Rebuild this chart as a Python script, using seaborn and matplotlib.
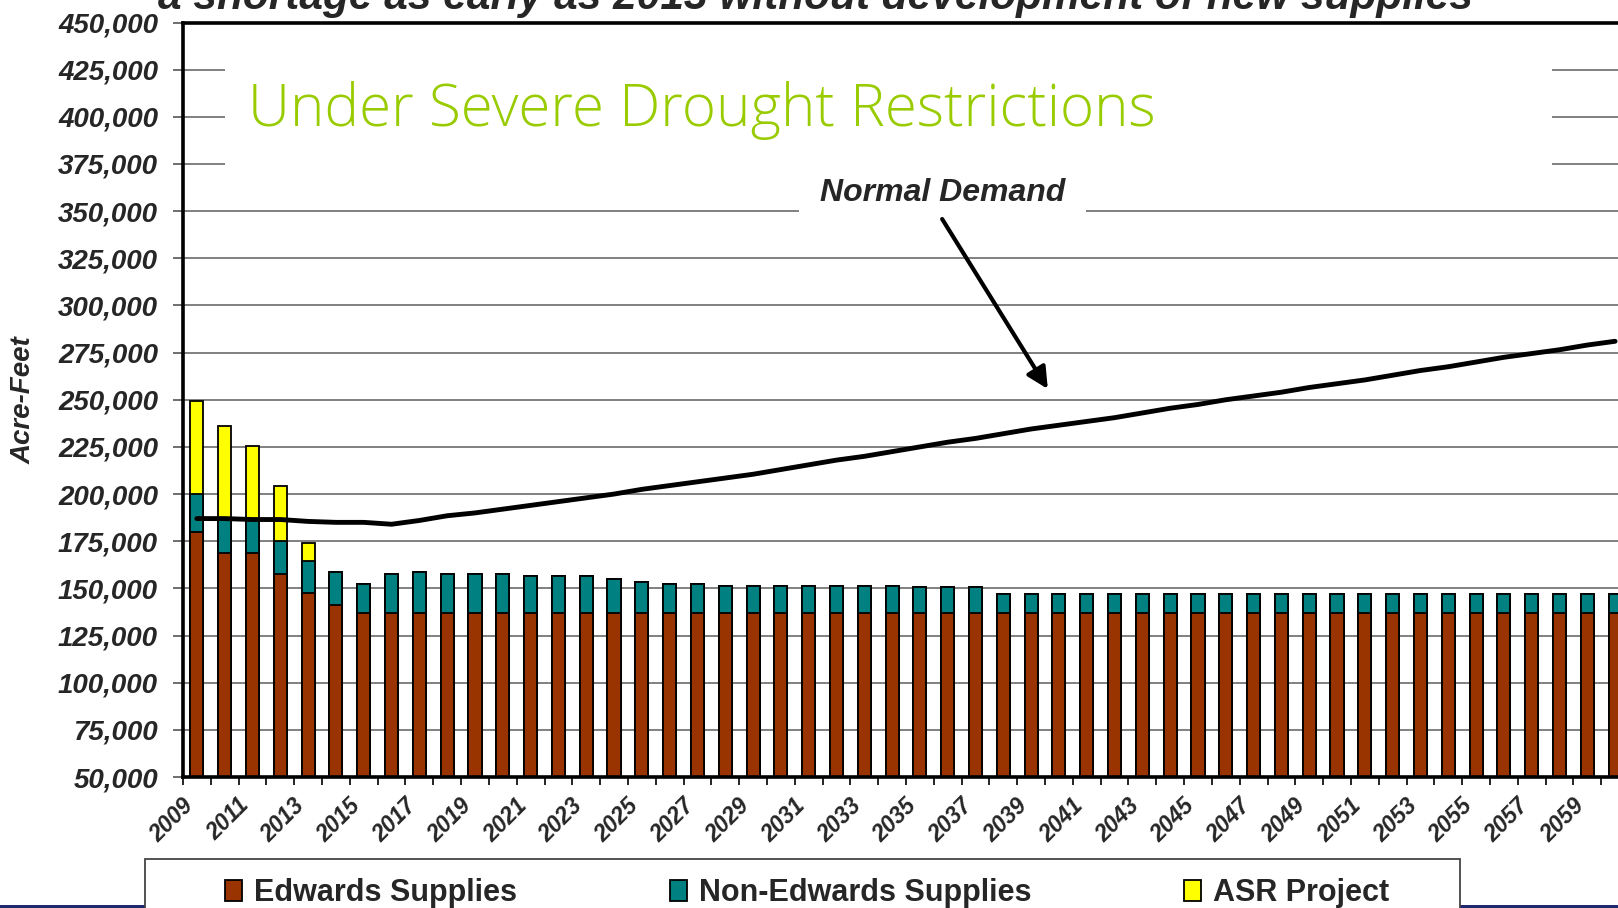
import numpy as np
import pandas as pd
import matplotlib
matplotlib.use("Agg")
import matplotlib.pyplot as plt
import matplotlib.transforms as mtransforms
from matplotlib.patches import Patch, Rectangle
import seaborn as sns

# data (acre-feet)
years = list(range(2009, 2061))
edwards = [180000, 168500, 168500, 157500, 147500, 141000, 137000, 137000, 137000, 137000,
           137000, 137000, 137000, 137000, 137000, 137000, 137000, 137000, 137000, 137000,
           137000, 137000, 137000, 137000, 137000, 137000, 137000, 137000, 137000, 137000,
           137000, 137000, 137000, 137000, 137000, 137000, 137000, 137000, 137000, 137000,
           137000, 137000, 137000, 137000, 137000, 137000, 137000, 137000, 137000, 137000,
           137000, 137000]
non_edwards = [20000, 18500, 18500, 17500, 17000, 17500, 15500, 20500, 21500, 20500,
               20500, 20500, 19500, 19500, 19500, 18000, 16500, 15500, 15500, 14500,
               14500, 14500, 14500, 14500, 14500, 14500, 13500, 13500, 13500, 10000,
               10000, 10000, 10000, 10000, 10000, 10000, 10000, 10000, 10000, 10000,
               10000, 10000, 10000, 10000, 10000, 10000, 10000, 10000, 10000, 10000,
               10000, 10000]
asr = [49500, 49000, 38500, 29500, 9500, 0, 0, 0, 0, 0,
       0, 0, 0, 0, 0, 0, 0, 0, 0, 0,
       0, 0, 0, 0, 0, 0, 0, 0, 0, 0,
       0, 0, 0, 0, 0, 0, 0, 0, 0, 0,
       0, 0, 0, 0, 0, 0, 0, 0, 0, 0,
       0, 0]
demand = [187000, 187000, 186500, 186500, 185500, 185000, 185000, 184000, 186000, 188500,
          190000, 192000, 194000, 196000, 198000, 200000, 202500, 204500, 206500, 208500,
          210500, 213000, 215500, 218000, 220000, 222500, 225000, 227500, 229500, 232000,
          234500, 236500, 238500, 240500, 243000, 245500, 247500, 250000, 252000, 254000,
          256500, 258500, 260500, 263000, 265500, 267500, 270000, 272500, 274500, 276500,
          279000, 281000]
series_names = ["Edwards Supplies", "Non-Edwards Supplies", "ASR Project"]
series_colors = ["#993300", "#008080", "#FFFF00"]
yticks = list(range(50000, 450001, 25000))

df = pd.DataFrame({"Year": [str(y) for y in years], "Edwards": edwards,
                   "NonEdwards": non_edwards, "ASR": asr, "Demand": demand})
df["lvl2"] = df["Edwards"] + df["NonEdwards"]
df["lvl3"] = df["lvl2"] + df["ASR"]

sns.set_theme(style="white")
plt.rcParams["font.family"] = ["Liberation Sans", "DejaVu Sans"]

fig = plt.figure(figsize=(16.18, 9.08), dpi=100)
ax = fig.add_axes([183 / 1618, 1 - 777 / 908, 1446 / 1618, 754.5 / 908])

# stacked bars: draw cumulative heights, tallest first
for col, colour in [("lvl3", series_colors[2]), ("lvl2", series_colors[1]), ("Edwards", series_colors[0])]:
    sns.barplot(data=df, x="Year", y=col, color=colour, saturation=1, width=0.47,
                edgecolor="black", linewidth=1.3, ax=ax, zorder=2)

idx = np.arange(len(years))
sns.lineplot(x=idx, y=df["Demand"].values, color="black", linewidth=3.5, ax=ax, zorder=5)

ax.set_xlim(-0.5, len(years) - 0.5)
ax.set_ylim(50000, 450000)
ax.set_yticks(yticks)
ax.set_yticklabels([f"{v:,}" for v in yticks], fontsize=20, fontweight="bold", fontstyle="italic")
ax.yaxis.grid(True, color="#808080", linewidth=1.4)
ax.set_axisbelow(True)
ax.tick_params(axis="y", length=7, width=1.2, color="#555555", pad=11, left=True)

ax.set_xticks(idx[::2])
ax.set_xticklabels([str(y) for y in years[::2]], fontsize=16.5, fontweight="bold", fontstyle="italic")
ax.set_xticks(np.arange(-0.5, len(years), 1), minor=True)
ax.tick_params(axis="x", which="major", length=0, pad=18)
ax.tick_params(axis="x", which="minor", length=6, width=1.2, color="black", bottom=True)
shift = mtransforms.ScaledTranslation(-5 / 72, 0, fig.dpi_scale_trans)
for lab in ax.get_xticklabels():
    lab.set_rotation(45)
    lab.set_ha("right")
    lab.set_va("center")
    lab.set_rotation_mode("anchor")
    lab.set_transform(lab.get_transform() + shift)
ax.set_xlabel("")
ax.set_ylabel("")

for side in ["left", "top", "bottom"]:
    ax.spines[side].set_color("black")
    ax.spines[side].set_linewidth(2.6)
ax.spines["right"].set_visible(False)

# white area behind the subtitle hides the upper grid lines
ax.add_patch(Rectangle((0.029, 0.783), 0.918, 0.186, transform=ax.transAxes,
                       facecolor="white", edgecolor="none", zorder=1))
ax.text(0.045, 0.863, "Under Severe Drought Restrictions", transform=ax.transAxes,
        fontsize=42, color="#99CC00", family=["Open Sans", "DejaVu Sans"], fontweight="light",
        ha="left", va="baseline", zorder=3)

ax.text(26.8, 359600, "Normal Demand", ha="center", va="center", fontsize=23,
        fontweight="bold", fontstyle="italic", zorder=5,
        bbox=dict(facecolor="white", edgecolor="none", pad=15))
ax.annotate("", xy=(30.6, 255700), xytext=(26.8, 345800), zorder=6,
            arrowprops=dict(arrowstyle="-|>", color="black", lw=3, mutation_scale=32,
                            shrinkA=0, shrinkB=0))

fig.text(23.5 / 1618, 1 - 400 / 908, "Acre-Feet", rotation=90, ha="center", va="center",
         fontsize=20, fontweight="bold", fontstyle="italic")

fig.text(816 / 1618, 1 - 9 / 908, "a shortage as early as 2013 without development of new supplies",
         ha="center", va="baseline", fontsize=30.5, fontweight="bold", fontstyle="italic")

# slide background strip and legend box
fig.add_artist(Rectangle((0, 0), 1, 3 / 908, transform=fig.transFigure,
                         facecolor="#1F2A6E", edgecolor="none", zorder=0))
fig.add_artist(Rectangle((145 / 1618, -0.02), 1315 / 1618, 0.02 + 49 / 908, transform=fig.transFigure,
                         facecolor="white", edgecolor="#444444", linewidth=1.3, zorder=1))
handles = [Patch(facecolor=c, edgecolor="black", linewidth=1.3, label=n)
           for n, c in zip(series_names, series_colors)]
fig.legend(handles=handles, ncol=3, frameon=False, loc="center left",
           bbox_to_anchor=(225 / 1618, 1 - 893 / 908), borderpad=0, borderaxespad=0,
           prop={"size": 22, "weight": "bold"}, handlelength=0.55, handleheight=0.7,
           handletextpad=0.4, columnspacing=5.0)

fig.savefig("out.png", dpi=100)
